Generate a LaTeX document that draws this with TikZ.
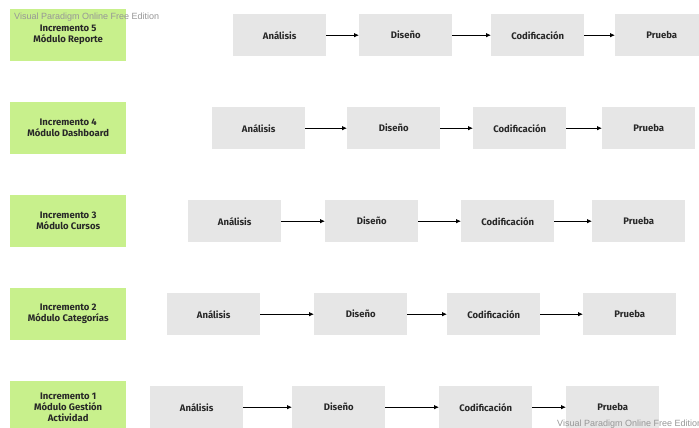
\documentclass[tikz,border=0pt]{standalone}
\usepackage{fontspec}
\setmainfont{Fira Sans}
\newfontfamily\wmfont{Liberation Sans}
\usetikzlibrary{arrows.meta}
\definecolor{incgreen}{RGB}{200,240,140}
\definecolor{phasegray}{RGB}{230,230,230}
\definecolor{labelink}{RGB}{40,40,40}
\definecolor{wmgray}{RGB}{150,150,150}

\begin{document}
\begin{tikzpicture}[x=1pt,y=-1pt,
  increment/.style={fill=incgreen, minimum width=116pt, minimum height=52pt,
    inner sep=0pt, align=center, text=labelink, anchor=north west,
    font=\bfseries\fontsize{9.5}{11}\selectfont},
  phase/.style={fill=phasegray, minimum width=93pt, minimum height=42pt,
    inner sep=0pt, text=labelink, anchor=north west,
    font=\bfseries\fontsize{9.5}{11}\selectfont},
  flow/.style={-{Latex[length=5pt,width=4.5pt]}, line width=0.8pt, black},
  watermark/.style={font=\wmfont\fontsize{9}{10}\selectfont, text=wmgray,
    inner sep=0pt, anchor=west}]
\useasboundingbox (0,0) rectangle (699,428);

% one row per increment: top of phase boxes, label, x of the four phases
\foreach \n/\yy/\lbl/\xa/\xd/\xc/\xp in {
    5/14/{Incremento 5\\Módulo Reporte}/233/359/491/615,
    4/107/{Incremento 4\\Módulo Dashboard}/212/347/473/602,
    3/200/{Incremento 3\\Módulo Cursos}/188/325/461/592,
    2/293/{Incremento 2\\Módulo Categorías}/167/314/447/583,
    1/386/{Incremento 1\\Módulo Gestión\\Actividad}/150/292/439/566} {
  \node[increment] (inc\n) at (10,\yy-5) {\lbl};
  \node[phase] (ana\n) at (\xa,\yy) {Análisis};
  \node[phase] (dis\n) at (\xd,\yy) {Diseño};
  \node[phase] (cod\n) at (\xc,\yy) {Codificación};
  \node[phase] (pru\n) at (\xp,\yy) {Prueba};
  \draw[flow] (ana\n.east) -- (dis\n.west);
  \draw[flow] (dis\n.east) -- (cod\n.west);
  \draw[flow] (cod\n.east) -- (pru\n.west);
}

\node[watermark] (wmtop) at (14,17.5) {Visual Paradigm Online Free Edition};
\node[watermark] (wmbottom) at (557,424.5) {Visual Paradigm Online Free Edition};
\end{tikzpicture}
\end{document}
